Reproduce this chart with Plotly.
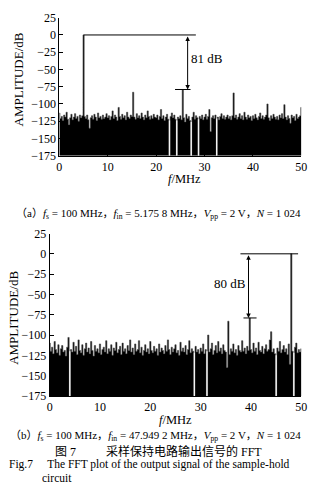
import numpy as np
import plotly.graph_objects as go

# ---------------- data ----------------
# frequency bins (MHz), 0..50 step 0.25
freq_a = np.linspace(0, 50, 201)
freq_b = np.linspace(0, 50, 201)

amp_a = [
    -113, -121, -118, -124, -116, -119, -112, -122, -130, -120, -115, -123, -119, -114, -121, -118, -125, -116, -120, -117,
    0, -118, -121, -116, -123, -135, -120, -117, -122, -115, -119, -124, -113, -120, -118, -122, -116, -121, -119, -114,
    -120, -117, -123, -118, -110, -121, -116, -119, -124, -105, -118, -122, -115, -120, -117, -123, -112, -119, -121, -116,
    -118, -83, -119, -122, -114, -120, -117, -121, -113, -119, -123, -116, -120, -110, -118, -122, -117, -121, -115, -119,
    -120, -116, -123, -118, -108, -121, -117, -124, -119, -115, -122, -175, -118, -113, -120, -116, -122, -175, -119, -121,
    -117, -123, -79, -120, -126, -115, -121, -118, -124, -175, -119, -112, -122, -117, -120, -175, -118, -121, -116, -123,
    -119, -115, -122, -118, -108, -140, -120, -117, -121, -116, -175, -119, -123, -118, -114, -121, -117, -122, -119, -116,
    -121, -118, -123, -117, -84, -120, -116, -122, -119, -114, -121, -117, -123, -112, -119, -122, -116, -120, -118, -124,
    -117, -121, -115, -120, -123, -118, -113, -121, -117, -122, -119, -116, -100, -120, -124, -117, -121, -115, -119, -122,
    -118, -123, -116, -120, -114, -121, -101, -119, -123, -117, -121, -128, -116, -120, -118, -124, -115, -121, -119, -117,
    -105,
]

amp_b = [
    -110, -120, -115, -123, -108, -118, -122, -112, -125, -117, -113, -121, -119, -126, -115, -103, -175, -118, -121, -109,
    -120, -114, -124, -106, -119, -122, -112, -125, -117, -110, -121, -116, -123, -108, -119, -126, -113, -120, -117, -122,
    -111, -124, -118, -115, -121, -107, -123, -117, -120, -112, -125, -116, -119, -109, -122, -118, -114, -124, -110, -120,
    -117, -123, -113, -119, -106, -121, -116, -124, -111, -120, -118, -107, -122, -115, -125, -119, -112, -121, -117, -123,
    -108, -119, -122, -114, -120, -117, -125, -111, -121, -116, -119, -123, -113, -120, -106, -118, -124, -115, -121, -117,
    -112, -122, -119, -125, -109, -120, -116, -121, -113, -124, -118, -107, -122, -117, -120, -175, -114, -121, -118, -123,
    -116, -120, -111, -123, -118, -175, -100, -121, -117, -110, -124, -119, -113, -122, -108, -120, -116, -123, -112, -119,
    -121, -140, -83, -124, -117, -120, -111, -122, -118, -125, -113, -119, -121, -107, -120, -116, -123, -114, -119, -79,
    -118, -122, -110, -120, -116, -124, -109, -119, -121, -114, -123, -117, -112, -120, -118, -106, -96, -121, -117, -123,
    -175, -116, -120, -108, -122, -118, -113, -121, -117, -124, -111, -136, 0, -120, -175, -115, -110, -122, -118, -121,
    -117,
]

y_ticks = [25, 0, -25, -50, -75, -100, -125, -150, -175]
x_ticks = [0, 10, 20, 30, 40, 50]

# measurement brackets
meas_a = dict(f0=5.0, f_end=28.2, s0=23.9, s1=27.1, f_arrow=26.5, spur=-79, lab_f=30.6, lab_y=-34, text="81 dB")
meas_b = dict(f0=37.9, f_end=49.35, s0=38.5, s1=41.1, f_arrow=39.5, spur=-79, lab_f=35.8, lab_y=-37, text="80 dB")

FLOOR = -175
SERIF = "Liberation Serif, Times New Roman, serif"
MIXED = "Liberation Serif, Noto Sans CJK SC, serif"

W, H = 320, 504

fig = go.Figure()


def add_spectrum(freq, amp, xa, ya):
    fig.add_trace(go.Scatter(x=freq, y=[FLOOR] * len(freq), mode="lines", line=dict(width=0, color="black"),
                             xaxis=xa, yaxis=ya, showlegend=False, hoverinfo="skip"))
    fig.add_trace(go.Scatter(x=freq, y=amp, mode="lines", line=dict(width=0.6, color="#4a4a4a", shape="hvh"),
                             fill="tonexty", fillcolor="black", xaxis=xa, yaxis=ya, showlegend=False))
    # deep nulls drawn as white gaps from the floor up to the neighbouring noise level
    nx, ny = [], []
    for i, v in enumerate(amp):
        if v <= FLOOR:
            nb = [amp[j] for j in (i - 1, i + 1) if 0 <= j < len(amp)]
            nx += [freq[i], freq[i], None]
            ny += [FLOOR, min(nb) - 2, None]
    if nx:
        fig.add_trace(go.Scatter(x=nx, y=ny, mode="lines", line=dict(width=1.3, color="#f4f4f4"),
                                 xaxis=xa, yaxis=ya, showlegend=False, hoverinfo="skip"))


add_spectrum(freq_a, amp_a, "x", "y")
add_spectrum(freq_b, amp_b, "x2", "y2")


def add_bracket(m, xr, yr):
    fig.add_shape(type="line", xref=xr, yref=yr, x0=m["f0"], x1=m["f_end"], y0=0, y1=0,
                  line=dict(color="black", width=1))
    fig.add_shape(type="line", xref=xr, yref=yr, x0=m["s0"], x1=m["s1"], y0=m["spur"], y1=m["spur"],
                  line=dict(color="black", width=1))
    fig.add_annotation(x=m["f_arrow"], y=m["spur"], ax=m["f_arrow"], ay=0, xref=xr, yref=yr, axref=xr, ayref=yr,
                       text="", showarrow=True, arrowhead=2, startarrowhead=2, arrowside="end+start",
                       arrowsize=0.9, arrowwidth=1, arrowcolor="black", startstandoff=0, standoff=0)
    fig.add_annotation(x=m["lab_f"], y=m["lab_y"], xref=xr, yref=yr, text=m["text"], showarrow=False,
                       font=dict(family=SERIF, size=13, color="black"))


add_bracket(meas_a, "x", "y")
add_bracket(meas_b, "x2", "y2")


def px(x):
    return x / W


def py(y):
    return 1 - y / H


axis_common = dict(showgrid=False, zeroline=False, showline=True, linecolor="black", linewidth=1,
                   ticks="inside", ticklen=4, tickcolor="black", tickfont=dict(family=SERIF, size=12, color="black"))

fig.update_layout(
    width=W, height=H, margin=dict(l=0, r=0, t=0, b=0),
    paper_bgcolor="white", plot_bgcolor="white",
    xaxis=dict(**axis_common, range=[0, 50], domain=[px(58), px(307)], anchor="y", tickvals=x_ticks),
    yaxis=dict(**axis_common, range=[-175, 25], domain=[py(153), py(11)], anchor="x", tickvals=y_ticks),
    xaxis2=dict(**axis_common, range=[0, 50], domain=[px(48), px(307)], anchor="y2", tickvals=x_ticks),
    yaxis2=dict(**axis_common, range=[-175, 25], domain=[py(400), py(233)], anchor="x2", tickvals=y_ticks),
)


def ptext(x, y, text, size, family=SERIF, xanchor="center", angle=0):
    fig.add_annotation(x=px(x), y=py(y), xref="paper", yref="paper", text=text, showarrow=False,
                       xanchor=xanchor, yanchor="middle", textangle=angle,
                       font=dict(family=family, size=size, color="black"))


ptext(16, 75, "AMPLITUDE/dB", 13, angle=-90)
ptext(10, 320, "AMPLITUDE/dB", 13, angle=-90)
ptext(187, 177, "<i>f</i>/MHz", 12.5)
ptext(177, 425, "<i>f</i>/MHz", 12.5)

ptext(160, 213, "（a）<i>f</i><sub>s</sub> = 100 MHz，<i>f</i><sub>in</sub> = 5.175 8 MHz，"
                "<i>V</i><sub>pp</sub> = 2 V，<i>N</i> = 1 024", 11, family=MIXED)
ptext(157, 441, "（b）<i>f</i><sub>s</sub> = 100 MHz，<i>f</i><sub>in</sub> = 47.949 2 MHz，"
                "<i>V</i><sub>pp</sub> = 2 V，<i>N</i> = 1 024", 11, family=MIXED)
ptext(160, 457.5, "图 7　　  采样保持电路输出信号的 FFT", 12, family=MIXED)
ptext(4, 471, "Fig.7　 The FFT plot of the output signal of the sample-hold", 11.5, family=MIXED, xanchor="left")
ptext(38, 484, "circuit", 11.5, xanchor="left")

fig.write_html("out.html")
